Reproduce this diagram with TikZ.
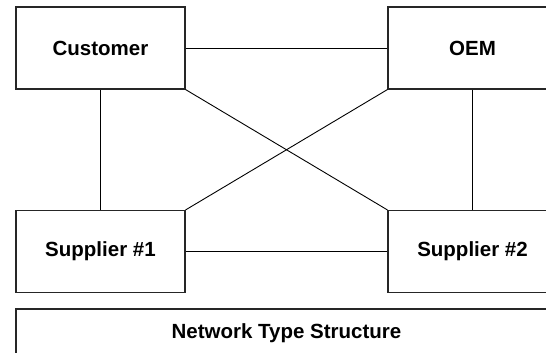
\documentclass[tikz,border=0pt]{standalone}
\usepackage{fontspec}
\setmainfont{Liberation Sans}
\begin{document}
\begin{tikzpicture}[x=1pt,y=-1pt,
  box/.style={draw=black!85, line width=1.1pt, fill=white, inner sep=0pt,
    minimum width=169pt, minimum height=82pt,
    font=\fontsize{20.5}{24}\selectfont\bfseries},
  link/.style={draw=black, line width=0.9pt}]
\path[use as bounding box] (0,0) rectangle (546,353);
\clip (0,0) rectangle (546,353);
\node[box] (cust) at (100.5,48) {Customer};
\node[box] (oem) at (472.5,48) {OEM};
\node[box] (s1) at (100.5,251.5) {Supplier \#1};
\node[box] (s2) at (472.5,251.5) {Supplier \#2};
\node[box, minimum width=541pt, minimum height=48pt] (title) at (286.5,333) {Network Type Structure};
\draw[link] (cust.east) -- (oem.west);
\draw[link] (cust.south) -- (s1.north);
\draw[link] (oem.south) -- (s2.north);
\draw[link] (cust.south east) -- (s2.north west);
\draw[link] (oem.south west) -- (s1.north east);
\draw[link] (s1.east) -- (s2.west);
\end{tikzpicture}
\end{document}
